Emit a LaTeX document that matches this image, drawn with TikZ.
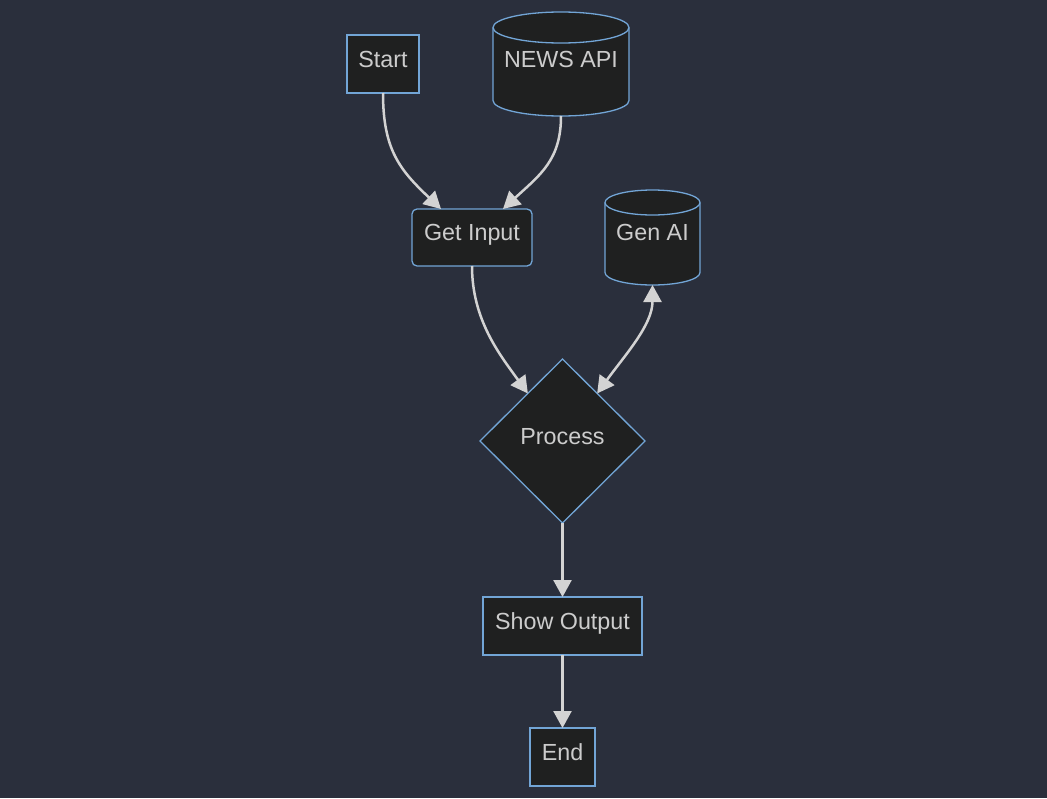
\documentclass[tikz,border=0pt]{standalone}
\usepackage{fontspec}
\setmainfont{Liberation Sans}
\usetikzlibrary{arrows.meta,shapes.geometric,calc}
\definecolor{bgc}{HTML}{2A2F3C}
\definecolor{nfill}{HTML}{1F2020}
\definecolor{nline}{HTML}{72A5D6}
\definecolor{ntext}{HTML}{CCCCCC}
\definecolor{eline}{HTML}{D3D3D3}
\pgfdeclarelayer{back}
\pgfdeclarelayer{shapes}
\pgfsetlayers{back,shapes,main}
\tikzset{
  base/.style={inner sep=0pt, outer sep=0pt, text=ntext,
    font=\fontsize{23.3pt}{28pt}\selectfont, text height=16pt, text depth=10pt},
  box/.style={base, rectangle, draw=nline, fill=nfill, line width=1.3pt},
  rbox/.style={box, rounded corners=5pt},
  dia/.style={base, diamond, aspect=1, draw=nline, fill=nfill, line width=1.3pt},
  cyltext/.style={base, rectangle},
  cylbody/.style={draw=nline, fill=nfill, line width=1.3pt},
  tip/.tip={Triangle[length=17pt,width=18pt]},
  edge/.style={draw=eline, line width=2.5pt, -tip},
  bedge/.style={draw=eline, line width=2.5pt, tip-tip},
}
\newcommand\cylfig[3]{%
  \begin{pgfonlayer}{shapes}
  \filldraw[cylbody] ([yshift=-#3pt]#1.north west) -- ([yshift=#3pt]#1.south west)
    arc[start angle=180,end angle=360,x radius=#2pt,y radius=#3pt]
    -- ([yshift=-#3pt]#1.north east)
    arc[start angle=0,end angle=180,x radius=#2pt,y radius=#3pt] -- cycle;
  \draw[cylbody, fill=none] ([yshift=-#3pt]#1.north west)
    arc[start angle=180,end angle=360,x radius=#2pt,y radius=#3pt];
  \end{pgfonlayer}}
\begin{document}
\begin{tikzpicture}[x=1pt,y=1pt]
\begin{pgfonlayer}{back}
\fill[bgc] (0,0) rectangle (1047,-798);
\end{pgfonlayer}
\useasboundingbox (0,0) rectangle (1047,-798);

\node[box, minimum width=72pt, minimum height=58pt] (start) at (383,-64) {Start};
\node[cyltext, minimum width=136pt, minimum height=104pt] (news) at (561,-64) {NEWS API};
\cylfig{news}{68}{15.5}
\node[rbox, minimum width=120pt, minimum height=57pt] (gi) at (472,-237.5) {Get Input};
\node[cyltext, minimum width=95pt, minimum height=95pt] (gen) at (652.5,-237.5) {Gen AI};
\cylfig{gen}{47.5}{12.5}
\node[dia, minimum width=165pt, minimum height=164pt] (pr) at (562.5,-441) {Process};
\node[box, minimum width=159pt, minimum height=58pt] (so) at (562.5,-626) {Show Output};
\node[box, minimum width=65pt, minimum height=58pt] (end) at (562.5,-757) {End};

\draw[edge] (start.south) .. controls (383,-150) and (400,-170) .. ([xshift=-31pt]gi.north);
\draw[edge] (news.south) .. controls (561,-160) and (540,-175) .. ([xshift=31pt]gi.north);
\draw[edge] (gi.south) .. controls (472,-320) and (500,-355) .. ($(pr.north)!0.42!(pr.west)$);
\draw[bedge] (gen.south) .. controls (652.5,-325) and (625,-355) .. ($(pr.north)!0.42!(pr.east)$);
\draw[edge] (pr.south) -- (so.north);
\draw[edge] (so.south) -- (end.north);
\end{tikzpicture}
\end{document}
